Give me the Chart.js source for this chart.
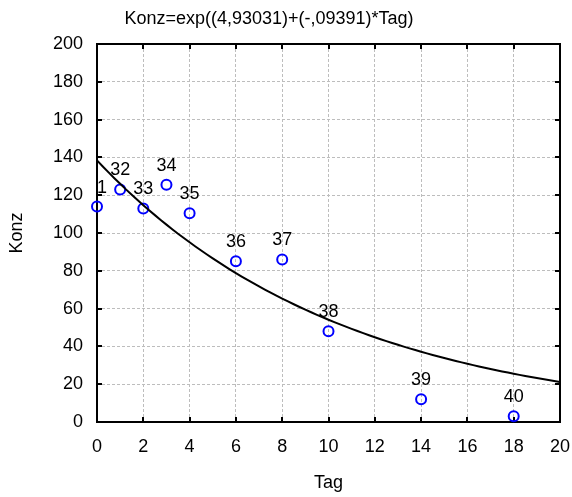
<!DOCTYPE html>
<html>
<head>
<meta charset="utf-8">
<script src="https://cdn.jsdelivr.net/npm/chart.js@4"></script>
<style>
  html, body { margin: 0; padding: 0; background: #ffffff; }
  #wrap { width: 572px; height: 497px; }
</style>
</head>
<body>
<div id="wrap"><canvas id="chart" width="572" height="497"></canvas></div>
<script>
// Case numbers, sampling day and measured concentration
const caseLabels = ['31', '32', '33', '34', '35', '36', '37', '38', '39', '40'];
const tagValues  = [0, 1, 2, 3, 4, 6, 8, 10, 14, 18];
const konzValues = [114, 123, 113, 125.5, 110.5, 85, 86, 48, 12, 3];

// Coefficients of the fitted exponential model
const fitIntercept = 4.93031;
const fitSlope = -0.09391;
const fitTitle = 'Konz=exp((4,93031)+(-,09391)*Tag)';

// Axis ticks
const xTicks = [0, 2, 4, 6, 8, 10, 12, 14, 16, 18, 20];
const yTicks = [0, 20, 40, 60, 80, 100, 120, 140, 160, 180, 200];

const FONT = '"Liberation Sans", Arial, sans-serif';

// Fitted curve sampled along the day axis
const curvePoints = [];
for (let t = xTicks[0]; t <= xTicks[xTicks.length - 1] + 1e-9; t += 0.25) {
  curvePoints.push({ x: t, y: Math.exp(fitIntercept + fitSlope * t) });
}
const measured = tagValues.map((t, i) => ({ x: t, y: konzValues[i] }));

// Frame around the plot with inward tick marks on all four sides
const framePlugin = {
  id: 'frame',
  beforeDatasetsDraw(chart) {
    const { ctx, chartArea: a, scales } = chart;
    const len = 5;
    ctx.save();
    ctx.strokeStyle = '#000';
    ctx.lineWidth = 2;
    ctx.beginPath();
    xTicks.forEach(v => {
      const px = Math.round(scales.x.getPixelForValue(v));
      ctx.moveTo(px, a.bottom); ctx.lineTo(px, a.bottom - len);
      ctx.moveTo(px, a.top); ctx.lineTo(px, a.top + len);
    });
    yTicks.forEach(v => {
      const py = Math.round(scales.y.getPixelForValue(v));
      ctx.moveTo(a.left, py); ctx.lineTo(a.left + len, py);
      ctx.moveTo(a.right, py); ctx.lineTo(a.right - len, py);
    });
    ctx.stroke();
    ctx.strokeRect(a.left, a.top, a.right - a.left, a.bottom - a.top);
    ctx.restore();
  }
};

// Case numbers above each measured point, plus the model formula on top
const labelPlugin = {
  id: 'caseLabels',
  afterDatasetsDraw(chart) {
    const { ctx, chartArea: a } = chart;
    const meta = chart.getDatasetMeta(1);
    ctx.save();
    ctx.beginPath();
    ctx.rect(a.left, a.top, a.right - a.left, a.bottom - a.top);
    ctx.clip();
    ctx.fillStyle = '#000';
    ctx.font = '18px ' + FONT;
    ctx.textAlign = 'center';
    ctx.textBaseline = 'middle';
    meta.data.forEach((pt, i) => {
      ctx.fillText(caseLabels[i], pt.x, pt.y - 19);
    });
    ctx.restore();

    ctx.save();
    ctx.fillStyle = '#000';
    ctx.font = '18px ' + FONT;
    ctx.textAlign = 'center';
    ctx.textBaseline = 'alphabetic';
    ctx.fillText(fitTitle, 269, 24);
    ctx.restore();
  }
};

new Chart(document.getElementById('chart'), {
  type: 'scatter',
  data: {
    datasets: [
      {
        type: 'line',
        label: 'Modell',
        data: curvePoints,
        borderColor: '#000',
        borderWidth: 2,
        pointRadius: 0,
        fill: false,
        tension: 0
      },
      {
        label: 'Konz',
        data: measured,
        borderColor: '#0000ff',
        backgroundColor: 'rgba(0,0,0,0)',
        borderWidth: 2,
        pointRadius: 5,
        pointHoverRadius: 5,
        clip: false
      }
    ]
  },
  options: {
    responsive: false,
    animation: false,
    devicePixelRatio: 1,
    layout: { padding: { top: 44, right: 12, left: 0, bottom: 0 } },
    plugins: {
      legend: { display: false },
      tooltip: { enabled: false },
      title: { display: false }
    },
    scales: {
      x: {
        type: 'linear',
        min: 0,
        max: 20,
        afterBuildTicks(scale) { scale.ticks = xTicks.map(v => ({ value: v })); },
        afterFit(scale) {
          scale.height = 75;
          scale.paddingLeft = 0;
          scale.paddingRight = 0;
        },
        grid: { color: '#bdbdbd', lineWidth: 1, drawTicks: false },
        border: { display: false, dash: [3, 2] },
        ticks: { color: '#000', padding: 14, font: { family: FONT, size: 18 } },
        title: {
          display: true,
          text: 'Tag',
          color: '#000',
          font: { family: FONT, size: 18 },
          padding: { top: 0, bottom: 3 }
        }
      },
      y: {
        type: 'linear',
        min: 0,
        max: 200,
        afterBuildTicks(scale) { scale.ticks = yTicks.map(v => ({ value: v })); },
        afterFit(scale) {
          scale.width = 97;
          scale.paddingTop = 0;
          scale.paddingBottom = 0;
        },
        grid: { color: '#bdbdbd', lineWidth: 1, drawTicks: false },
        border: { display: false, dash: [3, 2] },
        ticks: { color: '#000', padding: 14, font: { family: FONT, size: 18 } },
        title: {
          display: true,
          text: 'Konz',
          color: '#000',
          font: { family: FONT, size: 18 },
          padding: { top: 6, bottom: 0 }
        }
      }
    }
  },
  plugins: [framePlugin, labelPlugin]
});
</script>
</body>
</html>
